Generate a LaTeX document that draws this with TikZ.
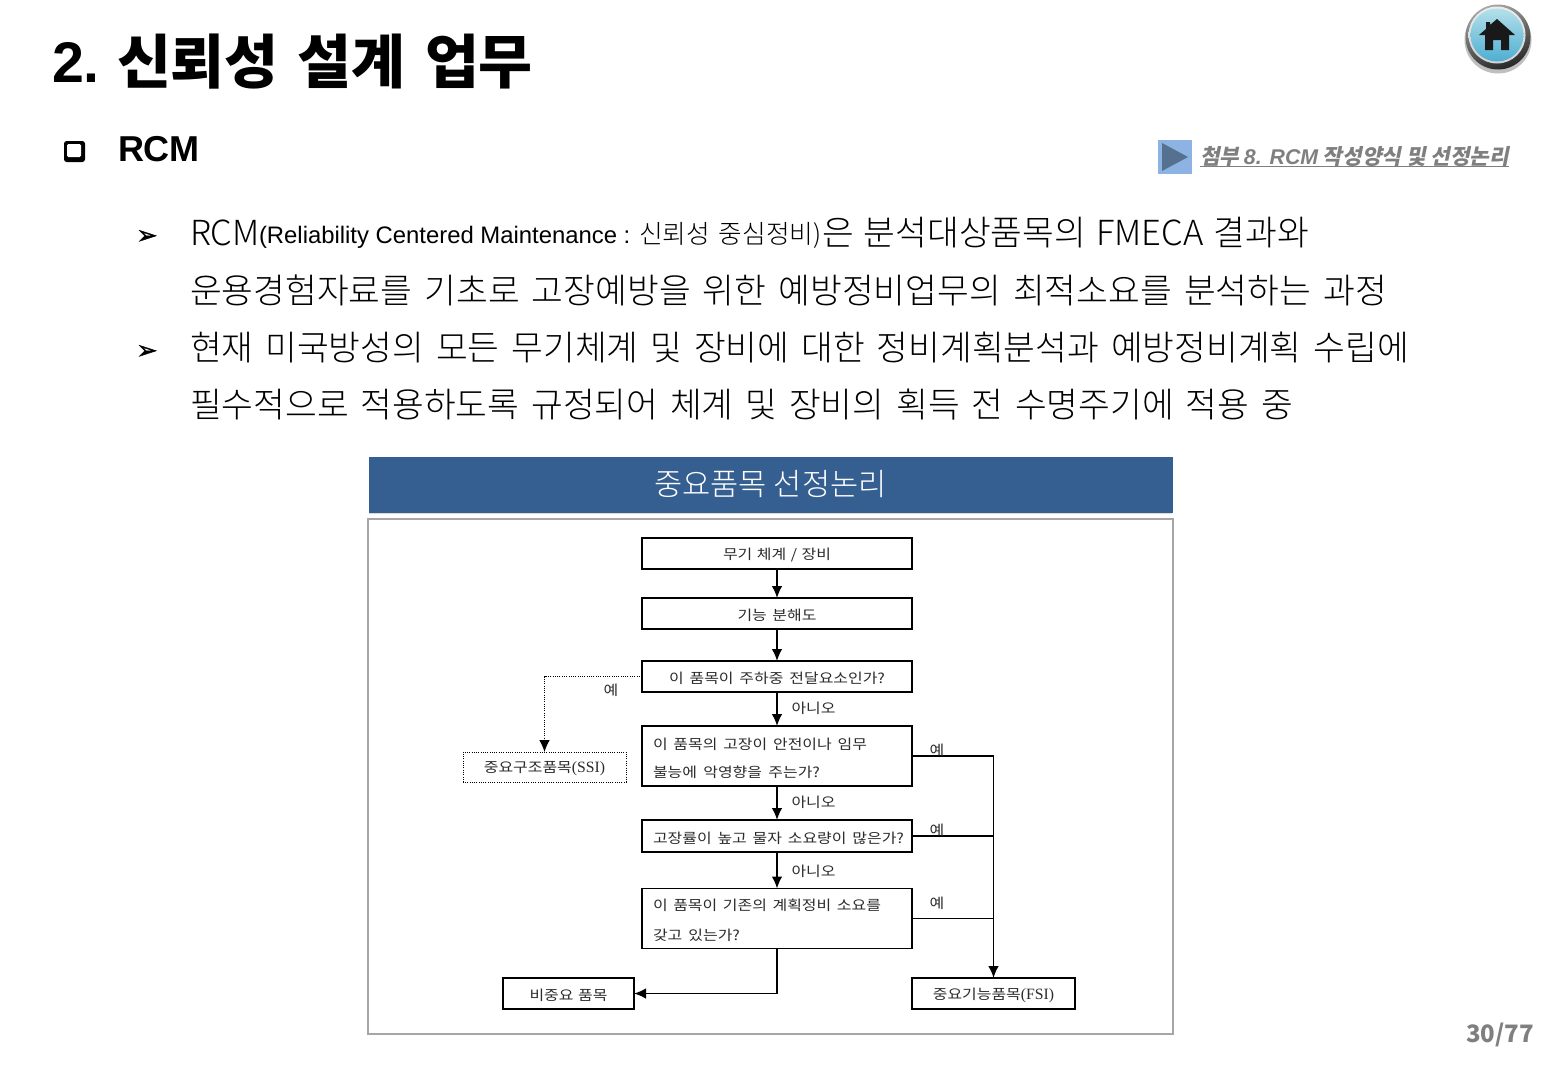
\documentclass[tikz,border=0pt]{standalone}
\usepackage{fontspec}
\usetikzlibrary{arrows.meta,shadows,shadings}
\setmainfont{Liberation Sans}
\newfontfamily\kr{Noto Sans CJK KR Light}
\newfontfamily\krr{Noto Sans CJK KR}
\newfontfamily\krf[FakeStretch=1.15]{Noto Sans CJK KR}
\newfontfamily\lnk[FakeSlant=0.2]{Noto Sans CJK KR}
\newfontfamily\djv[FakeBold=1.5]{DejaVu Sans}
\newfontfamily\lsf{Liberation Serif}
\newcommand{\fw}[2]{\makebox[\dimexpr #1pt*3/4\relax][s]{\spaceskip=0pt \xspaceskip=0pt #2}}
\newcommand{\dn}[1]{\raisebox{-1.4pt}[\height][\depth]{#1}}
\definecolor{hdr}{HTML}{365F91}
\definecolor{frameg}{HTML}{A6A6A6}
\definecolor{lnkc}{HTML}{7F7F7F}
\definecolor{tric}{HTML}{56708F}
\definecolor{trib}{HTML}{8DB3E2}
\definecolor{flowtxt}{HTML}{2B2B2B}
\definecolor{icontop}{HTML}{B4E0EA}
\definecolor{iconbot}{HTML}{4FAED2}
\tikzset{
 every node/.style={inner sep=0pt,outer sep=0pt},
 txt/.style={anchor=west,font=\kr\fontsize{25.9}{28}\selectfont,text=black},
 flowbox/.style={draw=black,line width=1.3pt,fill=white,minimum width=202.5pt,font=\krf\fontsize{10.4}{12}\selectfont,text=flowtxt},
 qbox/.style={flowbox,text width=186pt,inner xsep=8.25pt,align=left},
 endbox/.style={flowbox,minimum height=23.25pt},
 ylabel/.style={font=\krf\fontsize{10.4}{12}\selectfont,text=flowtxt},
 flow/.style={line width=1.3pt,-{Latex[length=9pt,width=8pt]}},
 plain/.style={line width=1.3pt},
 dots/.style={line width=.7pt,densely dotted},
 bull/.style={font=\djv\fontsize{19}{20}\selectfont},
}
\newcommand{\ltn}[1]{{\lsf\fontsize{11.8}{12}\selectfont #1}}
\begin{document}
\begin{tikzpicture}[x=0.75pt,y=-0.75pt]
\useasboundingbox (0,0) rectangle (1545,1065);
% title
\node[anchor=west,font=\bfseries\fontsize{43}{48}\selectfont] (titlenum) at (52,62) {2.};
\node[anchor=west,font=\krr\bfseries\fontsize{44}{48}\selectfont] (title) at (117,62) {\makebox[312pt][s]{신뢰성 설계 업무}};
\fill[black,rounded corners=2pt] (64,141) rectangle (85,162);
\fill[white,rounded corners=1pt] (67,144) rectangle (81,157);
\node[anchor=west,font=\bfseries\fontsize{27}{30}\selectfont] (rcm) at (118,149) {RCM};
% home button
\fill[black,opacity=.25] (1498,40) circle (33.5);
\shade[top color=gray!70,bottom color=black!85,shading angle=20] (1498,37) circle (32.5);
\shade[top color=gray!15,bottom color=gray!35] (1497,35) circle (28.5);
\shade[top color=icontop,bottom color=iconbot] (1497,35) circle (26.5);
\fill[black!90,shift={(-1,0)}] (1498,19) -- (1516,35) -- (1510,35) -- (1510,50) -- (1502,50) -- (1502,40) -- (1494,40) -- (1494,50) -- (1486,50) -- (1486,35) -- (1480,35) -- (1487,29) -- (1487,22) -- (1491,22) -- (1491,25) -- cycle;
% link
\fill[trib] (1158,140) rectangle (1192,174);
\fill[tric] (1162,143) -- (1188,157) -- (1162,171) -- cycle;
\node[anchor=west,font=\lnk\bfseries\fontsize{16}{18}\selectfont,text=lnkc] (lnk) at (1200,157) {\makebox[231.75pt][s]{첨부 {\normalfont\bfseries\itshape 8. RCM} 작성양식 및 선정논리}};
\draw[lnkc,line width=1.2pt] (1200,166.5) -- (1509,166.5);
% bullets
\node[bull] (b1) at (147,237) {➢};
\node[bull] (b2) at (147,352) {➢};
% body
\node[txt] (l1a) at (190,233) {RCM};
\node[anchor=west,font=\fontsize{17.9}{20}\selectfont] (l1b) at (259,237) {(Reliability Centered Maintenance : };
\node[anchor=west,font=\kr\fontsize{19.3}{20}\selectfont] (l1c) at (639,235) {\makebox[137pt][s]{신뢰성 중심정비)}};
\node[txt] (l1d) at (822,233) {\makebox[365.25pt][s]{은 분석대상품목의 FMECA 결과와}};
\node[txt] (l2) at (190,290) {\makebox[897.75pt][s]{운용경험자료를 기초로 고장예방을 위한 예방정비업무의 최적소요를 분석하는 과정}};
\node[txt] (l3) at (190,347) {\makebox[914.25pt][s]{현재 미국방성의 모든 무기체계 및 장비에 대한 정비계획분석과 예방정비계획 수립에}};
\node[txt] (l4) at (190,405) {\makebox[827.25pt][s]{필수적으로 적용하도록 규정되어 체계 및 장비의 획득 전 수명주기에 적용 중}};
% panel
\node[minimum width=602.5pt,minimum height=41pt,fill=hdr,draw=hdr,line width=.3pt,drop shadow={shadow xshift=0pt,shadow yshift=-1.5pt,opacity=.3},text=white,font=\kr\fontsize{23}{26}\selectfont] (hd) at (770.5,484.5) {중요품목 선정논리};
\node[draw=frameg,line width=1.1pt,minimum width=603.75pt,minimum height=386.25pt] (panel) at (770.5,776.5) {};
% flow boxes
\node[endbox] (n1) at (777,553.5) {\dn{\fw{108}{무기 체계 / 장비}}};
\node[endbox] (n2) at (777,613.5) {\dn{\fw{79}{기능 분해도}}};
\node[endbox] (n3) at (777,676.5) {\dn{\fw{216}{이 품목이 주하중 전달요소인가?}}};
\node[qbox,minimum height=45pt] (n4) at (777,756) {\dn{\fw{214}{이 품목의 고장이 안전이나 임무}}\\[9pt]\dn{\fw{167}{불능에 악영향을 주는가?}}};
\node[qbox,minimum height=24pt] (n5) at (777,836) {\dn{\fw{251}{고장률이 높고 물자 소요량이 많은가?}}};
\node[qbox,minimum height=45pt] (n6) at (777,918.5) {\dn{\fw{228}{이 품목이 기존의 계획정비 소요를}}\\[10pt]\dn{\fw{87}{갖고 있는가?}}};
\node[flowbox,draw=none,minimum width=122.25pt,minimum height=22.5pt] (ssi) at (544.5,767) {\dn{중요구조품목\ltn{(SSI)}}};
\draw[dots] (ssi.south west) rectangle (ssi.north east);
\node[endbox,minimum width=98.25pt] (nci) at (568.5,993.5) {\dn{\fw{78}{비중요 품목}}};
\node[endbox,minimum width=122.25pt] (fsi) at (993.5,993.5) {\dn{중요기능품목\ltn{(FSI)}}};
% connectors
\draw[flow] (n1) -- (n2);
\draw[flow] (n2) -- (n3);
\draw[flow] (n3) -- (n4);
\draw[flow] (n4) -- (n5);
\draw[flow] (n5) -- (n6);
\draw[dots,line width=.9pt,-{Latex[length=9pt,width=8pt]}] (n3.west) -| (ssi.north);
\draw[flow] (n6.south) |- (nci.east);
\draw[flow] (n4.east) -| (fsi.north);
\draw[plain] (n5.east) -- (fsi.north |- n5.east);
\draw[plain] (n6.east) -- (fsi.north |- n6.east);
% labels
\node[ylabel] (y1) at (611,690) {예};
\node[ylabel] (no1) at (813.5,708) {아니오};
\node[ylabel] (y2) at (937,750) {예};
\node[ylabel] (no2) at (813.5,802) {아니오};
\node[ylabel] (y3) at (937,830) {예};
\node[ylabel] (no3) at (813.5,871) {아니오};
\node[ylabel] (y4) at (937,903) {예};
% page
\node[anchor=east,font=\krr\bfseries\fontsize{18}{20}\selectfont,text=lnkc] (page) at (1534,1035) {30/77};
\end{tikzpicture}
\end{document}
